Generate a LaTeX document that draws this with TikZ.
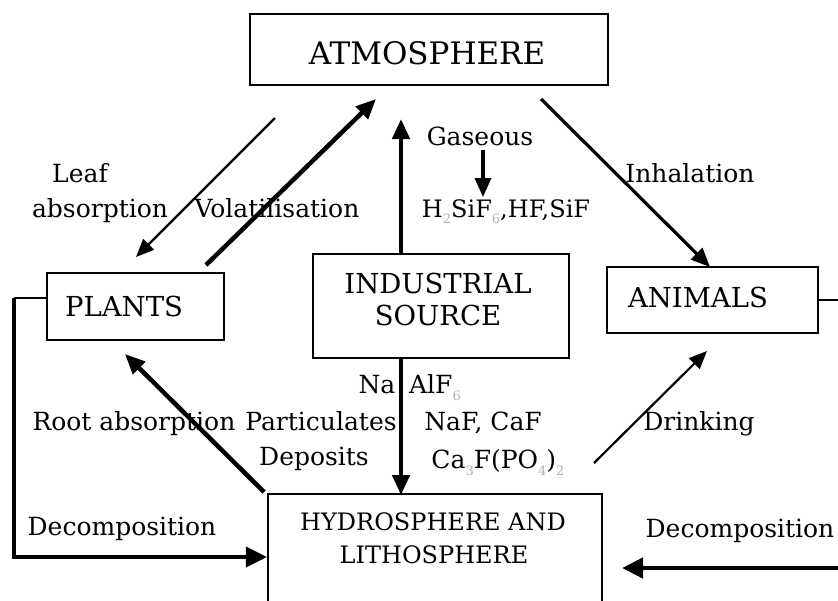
\documentclass[tikz,border=0pt]{standalone}
\usepackage{fontspec}
\setmainfont{DejaVu Serif}
\usetikzlibrary{arrows.meta}
\newcommand\subg[1]{\raisebox{-0.28em}{\fontsize{13}{13}\selectfont\color{black!30}#1}}
\tikzset{
  box/.style={draw, line width=2.2pt, inner sep=0pt},
  boxtext/.style={font=\fontsize{27.5}{32}\selectfont, anchor=base, inner sep=0pt},
  lab/.style={font=\fontsize{25}{29}\selectfont, anchor=base, inner sep=0pt},
  thick arrow/.style={line width=4.5pt, -{Triangle[length=20pt,width=17pt]}},
  med arrow/.style={line width=3.2pt, -{Triangle[length=19pt,width=16pt]}},
  thin arrow/.style={line width=2.2pt, -{Triangle[length=18pt,width=15pt]}},
}
\begin{document}
\begin{tikzpicture}[x=1pt,y=-1pt]
\useasboundingbox (0,0) rectangle (838,600);
\clip (0,0) rectangle (838,600);
\fill[white] (0,0) rectangle (838,600);

% boxes
\node[box, minimum width=358pt, minimum height=71pt] (atm) at (429,49.5) {};
\node[boxtext, font=\fontsize{31}{35}\selectfont] (atmt) at (427,64) {ATMOSPHERE};
\node[box, minimum width=177pt, minimum height=67pt] (plants) at (135.5,306.5) {};
\node[boxtext] (plantst) at (124,316) {PLANTS};
\node[box, minimum width=256pt, minimum height=104pt] (ind) at (441,306) {};
\node[boxtext] (indt1) at (438,293) {INDUSTRIAL};
\node[boxtext] (indt2) at (438,325) {SOURCE};
\node[box, minimum width=211pt, minimum height=66pt] (anim) at (712.5,300) {};
\node[boxtext] (animt) at (698,307) {ANIMALS};
\node[box, minimum width=334pt, minimum height=130pt] (hyd) at (435,559) {};
\node[lab, font=\fontsize{24}{28}\selectfont] (hydt1) at (433,530) {HYDROSPHERE AND};
\node[lab, font=\fontsize{24}{28}\selectfont] (hydt2) at (434,563) {LITHOSPHERE};

% coordinates
\coordinate (leafS) at (275,118);
\coordinate (leafE) at (136,257);
\coordinate (volS) at (206,265);
\coordinate (volE) at (376,99);
\coordinate (indU) at (401,254);
\coordinate (indUE) at (401,119);
\coordinate (gasS) at (483,150);
\coordinate (gasE) at (483,197);
\coordinate (inhS) at (541,99);
\coordinate (inhE) at (710,267);
\coordinate (indD) at (401,358);
\coordinate (indDE) at (401,495);
\coordinate (rootS) at (264,492);
\coordinate (rootE) at (125,354);
\coordinate (drS) at (594,463);
\coordinate (drE) at (707,351);
\coordinate (ldA) at (14,298);
\coordinate (ldB) at (14,557);
\coordinate (rdS) at (845,568);
\coordinate (rdE) at (622,568);
\coordinate (rA) at (845,300);

% connectors
\draw[thin arrow] (leafS) -- (leafE);
\draw[thick arrow] (volS) -- (volE);
\draw[thick arrow] (indU) -- (indUE);
\draw[med arrow] (gasS) -- (gasE);
\draw[med arrow] (inhS) -- (inhE);
\draw[thick arrow] (indD) -- (indDE);
\draw[thick arrow] (rootS) -- (rootE);
\draw[thin arrow] (drS) -- (drE);
\draw[line width=2.2pt] (ldA -| plants.west) -- (ldA);
\draw[line width=3.8pt, -{Triangle[length=21pt,width=20pt]}] (ldA) -- (ldB) -- (hyd.west |- ldB);
\draw[line width=4.5pt, -{Triangle[length=21pt,width=20pt]}] (rdS) -- (rdE);
\draw[line width=2.2pt] (anim.east) -- (rA);

% labels
\node[lab] (l1) at (80,182) {Leaf};
\node[lab] (l2) at (100,217) {absorption};
\node[lab] (l3) at (277,217) {Volatilisation};
\node[lab] (l4) at (480,145) {Gaseous};
\node[lab, font=\fontsize{24}{28}\selectfont] (l5) at (506,217) {H\subg{2}SiF\subg{6},HF,SiF};
\node[lab] (l6) at (690,182) {Inhalation};
\node[lab] (l7) at (377,393) {Na};
\node[lab] (l8) at (435,393) {AlF\subg{6}};
\node[lab] (l9) at (134,430) {Root absorption};
\node[lab] (l10) at (321,430) {Particulates};
\node[lab] (l11) at (314,465) {Deposits};
\node[lab] (l12) at (483,430) {NaF, CaF};
\node[lab] (l13) at (498,468) {Ca\subg{3}F(PO\subg{4})\subg{2}};
\node[lab] (l14) at (699,430) {Drinking};
\node[lab] (l15) at (122,535) {Decomposition};
\node[lab] (l16) at (740,537) {Decomposition};
\end{tikzpicture}
\end{document}
